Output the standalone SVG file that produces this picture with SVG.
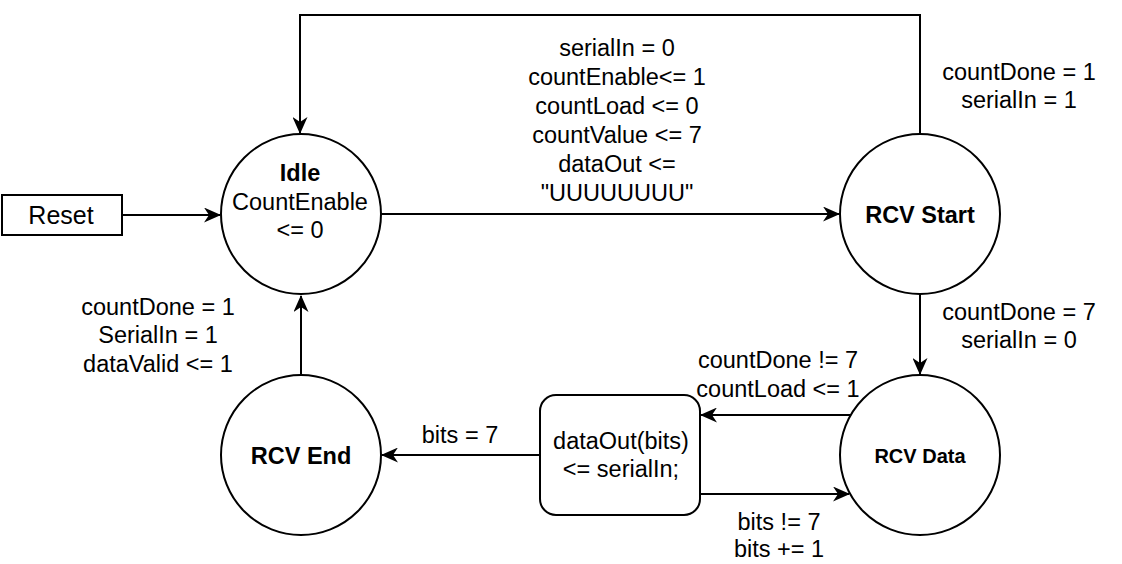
<svg xmlns="http://www.w3.org/2000/svg" width="1122" height="564" viewBox="0 0 1122 564">
<style>
.n{fill:#fff;stroke:#000;stroke-width:2}
.c{fill:none;stroke:#000;stroke-width:2}
text{font-family:"Liberation Sans",Arial,sans-serif;font-size:23.5px;fill:#000;text-anchor:middle;dominant-baseline:central}
.b{font-weight:bold}
</style>
<defs>
<marker id="a" viewBox="0 0 17 15" refX="16" refY="7.5" markerWidth="17" markerHeight="15" markerUnits="userSpaceOnUse" orient="auto">
<path d="M0,0 L17,7.5 L0,15 L5,7.5 Z" fill="#000"/>
</marker>
</defs>
<rect width="1122" height="564" fill="#fff"/>
<g id="connectors">
<path class="c" d="M122,215 H220" marker-end="url(#a)"/>
<path class="c" d="M381,214 H839" marker-end="url(#a)"/>
<path class="c" d="M920,134 V15 H300 V133" marker-end="url(#a)"/>
<path class="c" d="M920,294 V374" marker-end="url(#a)"/>
<path class="c" d="M851,415 H701" marker-end="url(#a)"/>
<path class="c" d="M700,494 H849" marker-end="url(#a)"/>
<path class="c" d="M540,455 H382" marker-end="url(#a)"/>
<path class="c" d="M301,375 V296" marker-end="url(#a)"/>
</g>
<g id="labels">
<text x="617" y="48">serialIn = 0</text>
<text x="617" y="77">countEnable&lt;= 1</text>
<text x="617" y="106">countLoad &lt;= 0</text>
<text x="617" y="135">countValue &lt;= 7</text>
<text x="617" y="164">dataOut &lt;=</text>
<text x="617" y="193">"UUUUUUUU"</text>
<text x="1019" y="72">countDone = 1</text>
<text x="1019" y="100">serialIn = 1</text>
<text x="1019" y="312">countDone = 7</text>
<text x="1019" y="340">serialIn = 0</text>
<text x="778" y="360">countDone != 7</text>
<text x="778" y="389">countLoad &lt;= 1</text>
<text x="779" y="522">bits != 7</text>
<text x="779" y="549">bits += 1</text>
<text x="460" y="435">bits = 7</text>
<text x="158" y="307">countDone = 1</text>
<text x="158" y="335">SerialIn = 1</text>
<text x="158" y="364">dataValid &lt;= 1</text>
</g>
<g id="reset">
<rect class="n" x="2" y="195" width="120" height="40"/>
<text x="61" y="215" style="font-size:25px">Reset</text>
</g>
<g id="idle">
<circle class="n" cx="301" cy="214" r="80"/>
<text class="b" x="300" y="173">Idle</text>
<text x="300" y="202">CountEnable</text>
<text x="300" y="230">&lt;= 0</text>
</g>
<g id="rcv-start">
<circle class="n" cx="920" cy="214" r="80"/>
<text class="b" x="920" y="215">RCV Start</text>
</g>
<g id="rcv-data">
<circle class="n" cx="920" cy="455" r="80"/>
<text class="b" x="920" y="456" style="font-size:20px">RCV Data</text>
</g>
<g id="rcv-end">
<circle class="n" cx="301" cy="455" r="80"/>
<text class="b" x="301" y="456">RCV End</text>
</g>
<g id="shift">
<rect class="n" x="540" y="395" width="160" height="120" rx="16"/>
<text x="621" y="441">dataOut(bits)</text>
<text x="621" y="469">&lt;= serialIn;</text>
</g>
</svg>
